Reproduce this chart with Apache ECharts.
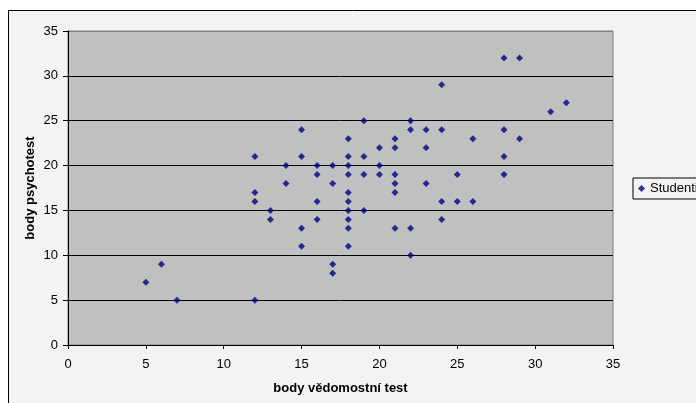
<!DOCTYPE html>
<html>
<head>
<meta charset="utf-8">
<script src="https://cdn.jsdelivr.net/npm/echarts@6/dist/echarts.min.js"></script>
<style>
  html, body { margin: 0; padding: 0; background: #fff; }
  #chart { width: 696px; height: 403px; }
</style>
</head>
<body>
<div id="chart"></div>
<script>
// body vědomostní test (x) vs. body psychotest (y)
const vedomostni = [
  5, 6, 7,
  12, 12, 12, 12,
  13, 13,
  14, 14,
  15, 15, 15, 15,
  16, 16, 16, 16,
  17, 17, 17, 17,
  18, 18, 18, 18, 18, 18, 18, 18, 18, 18,
  19, 19, 19, 19,
  20, 20, 20,
  21, 21, 21, 21, 21, 21,
  22, 22, 22, 22,
  23, 23, 23,
  24, 24, 24, 24,
  25, 25,
  26, 26,
  28, 28, 28, 28,
  29, 29,
  31, 32
];
const psychotest = [
  7, 9, 5,
  21, 17, 16, 5,
  15, 14,
  20, 18,
  24, 21, 13, 11,
  20, 19, 16, 14,
  20, 18, 9, 8,
  23, 21, 20, 19, 17, 16, 15, 14, 13, 11,
  25, 21, 19, 15,
  22, 20, 19,
  23, 22, 19, 18, 17, 13,
  25, 24, 13, 10,
  24, 22, 18,
  29, 24, 16, 14,
  19, 16,
  23, 16,
  32, 24, 21, 19,
  32, 23,
  26, 27
];
const seriesName = 'Studenti';

const points = vedomostni.map((v, i) => [v, psychotest[i]]);

const chart = echarts.init(document.getElementById('chart'));
const font = '"Liberation Sans", Arial, sans-serif';

chart.setOption({
  animation: false,
  backgroundColor: '#ffffff',
  textStyle: { fontFamily: font },
  graphic: [{
    type: 'rect',
    silent: true,
    z: -10,
    shape: { x: 8.5, y: 10.5, width: 720, height: 420 },
    style: { fill: '#f3f3f3', stroke: '#000000', lineWidth: 1 }
  }],
  grid: {
    left: 68, top: 31, right: 83, bottom: 58,
    show: true,
    backgroundColor: '#c0c0c0',
    borderColor: '#808080',
    borderWidth: 1
  },
  legend: {
    data: [seriesName],
    orient: 'vertical',
    left: 633,
    top: 178,
    backgroundColor: '#f3f3f3',
    borderColor: '#000000',
    borderWidth: 1,
    borderRadius: 0,
    padding: [4, 8, 4, 5],
    itemWidth: 7,
    itemHeight: 7,
    icon: 'diamond',
    textStyle: { fontFamily: font, fontSize: 13, color: '#000' }
  },
  xAxis: {
    type: 'value',
    min: 0, max: 35, interval: 5,
    name: 'body vědomostní test',
    nameLocation: 'middle',
    nameGap: 37,
    nameMoveOverlap: false,
    nameTextStyle: { fontFamily: font, fontSize: 13, fontWeight: 'bold', color: '#000' },
    axisLine: { show: true, onZero: false, lineStyle: { color: '#000', width: 1 } },
    axisTick: { show: true, length: 4, lineStyle: { color: '#000' } },
    axisLabel: { margin: 13, fontFamily: font, fontSize: 13, color: '#000' },
    splitLine: { show: false }
  },
  yAxis: {
    type: 'value',
    min: 0, max: 35, interval: 5,
    name: 'body psychotest',
    nameLocation: 'middle',
    nameGap: 31,
    nameMoveOverlap: false,
    nameTextStyle: { fontFamily: font, fontSize: 13, fontWeight: 'bold', color: '#000' },
    axisLine: { show: true, onZero: false, lineStyle: { color: '#000', width: 1 } },
    axisTick: { show: true, length: 5, lineStyle: { color: '#000' } },
    axisLabel: { margin: 10, fontFamily: font, fontSize: 13, color: '#000' },
    splitLine: {
      show: true,
      lineStyle: {
        color: ['#000', '#000', '#000', '#000', '#000', '#000', '#000', '#808080'],
        width: 1
      }
    }
  },
  series: [{
    name: seriesName,
    type: 'scatter',
    symbol: 'diamond',
    symbolSize: 7,
    itemStyle: { color: '#000080' },
    data: points
  }]
});
</script>
</body>
</html>
